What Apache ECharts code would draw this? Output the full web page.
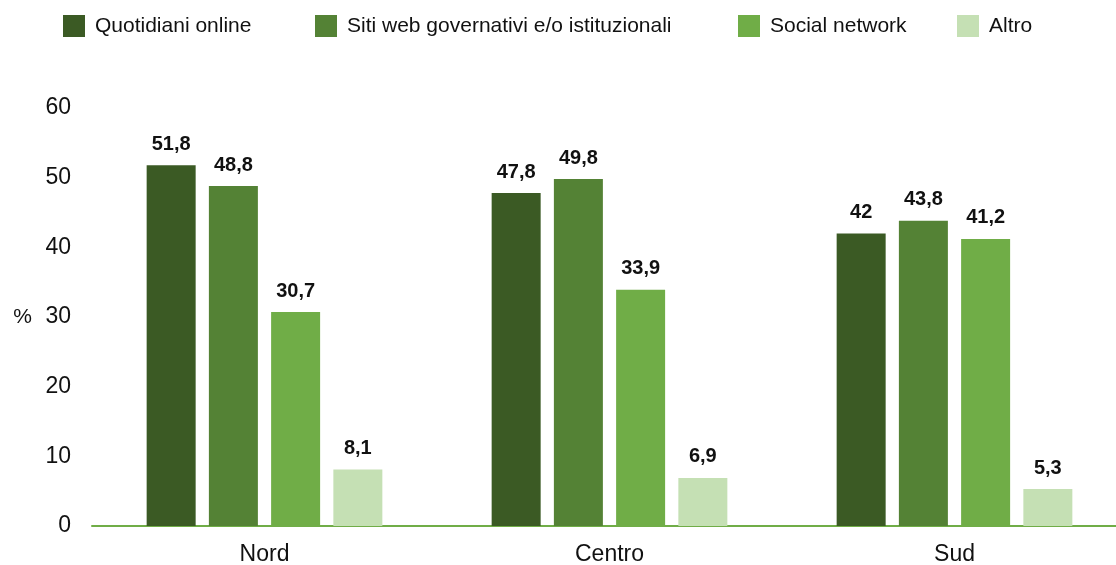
<!DOCTYPE html>
<html>
<head>
<meta charset="utf-8">
<script src="https://cdn.jsdelivr.net/npm/echarts@6/dist/echarts.min.js"></script>
<style>
  html, body { margin: 0; padding: 0; background: #fff; overflow: hidden; }
  #chart { width: 1116px; height: 565px; }
</style>
</head>
<body>
<div id="chart"></div>
<script>
// Areas of the country
const categories = ['Nord', 'Centro', 'Sud'];

// Share of respondents (%) by information source
const quotidianiOnline = [51.8, 47.8, 42];
const sitiIstituzionali = [48.8, 49.8, 43.8];
const socialNetwork = [30.7, 33.9, 41.2];
const altro = [8.1, 6.9, 5.3];

const seriesNames = ['Quotidiani online', 'Siti web governativi e/o istituzionali', 'Social network', 'Altro'];
const seriesColors = ['#3B5A24', '#548235', '#70AD47', '#C5E0B4'];
const seriesValues = [quotidianiOnline, sitiIstituzionali, socialNetwork, altro];

const yTicks = { min: 0, max: 60, interval: 10 };

const font = 'Liberation Sans, Arial, sans-serif';
const legendLeft = [63, 315, 738, 957];

const chart = echarts.init(document.getElementById('chart'), null, { renderer: 'canvas' });

chart.setOption({
  animation: false,
  backgroundColor: '#ffffff',
  textStyle: { fontFamily: font },
  legend: seriesNames.map((name, i) => ({
    data: [name],
    left: legendLeft[i],
    top: 15,
    padding: 0,
    itemWidth: 22,
    itemHeight: 22,
    itemGap: 0,
    icon: 'rect',
    textStyle: { fontSize: 21, color: '#111', fontFamily: font, padding: [0, 0, 0, 5] },
    selectedMode: false
  })),
  grid: { left: 92, width: 1035, top: 108, bottom: 39, outerBoundsMode: 'none', containLabel: false },
  xAxis: {
    type: 'category',
    data: categories,
    axisLine: { lineStyle: { color: '#70AD47', width: 2 } },
    axisTick: { show: false },
    axisLabel: { fontSize: 23, color: '#111', margin: 17, fontFamily: font }
  },
  yAxis: {
    type: 'value',
    min: yTicks.min,
    max: yTicks.max,
    interval: yTicks.interval,
    name: '%',
    nameLocation: 'middle',
    nameRotate: 0,
    nameGap: 60,
    nameTextStyle: { fontSize: 21, color: '#111', fontFamily: font },
    axisLine: { show: false },
    axisTick: { show: false },
    splitLine: { show: false },
    axisLabel: { fontSize: 23, color: '#111', margin: 21, fontFamily: font }
  },
  series: seriesNames.map((name, i) => ({
    name: name,
    type: 'bar',
    data: seriesValues[i],
    barWidth: 49,
    barGap: '27%',
    itemStyle: { color: seriesColors[i] },
    label: {
      show: true,
      position: 'top',
      distance: 11,
      fontSize: 20,
      fontWeight: 'bold',
      color: '#111',
      fontFamily: font,
      formatter: p => String(p.value).replace('.', ',')
    }
  }))
});
</script>
</body>
</html>
